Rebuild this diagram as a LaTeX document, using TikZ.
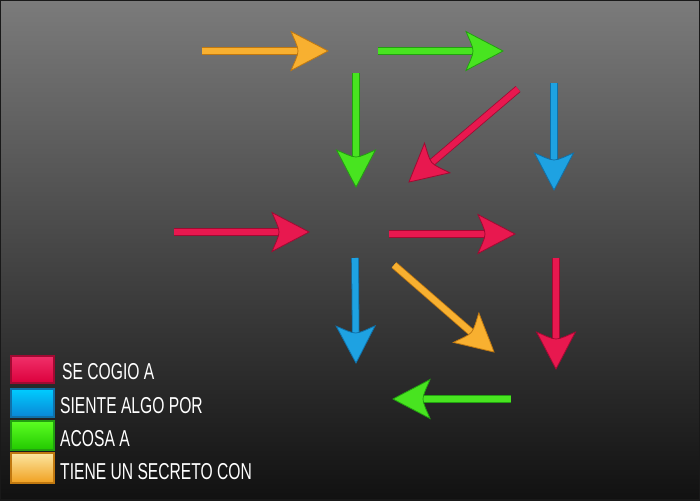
\documentclass[tikz,border=0pt]{standalone}
\usepackage{fontspec}
\newfontfamily\legendfont[FakeStretch=0.68]{Liberation Sans}
\usetikzlibrary{arrows.meta}

\definecolor{bgtop}{HTML}{7B7B7B}
\definecolor{bgbot}{HTML}{111111}
\definecolor{redA}{HTML}{E8184F}
\definecolor{redB}{HTML}{A00A32}
\definecolor{redC}{HTML}{F0306A}
\definecolor{redD}{HTML}{DC003C}
\definecolor{blueA}{HTML}{1EA2E2}
\definecolor{blueB}{HTML}{1070A8}
\definecolor{blueC}{HTML}{00CCFF}
\definecolor{blueD}{HTML}{0A86D6}
\definecolor{greenA}{HTML}{48E420}
\definecolor{greenB}{HTML}{22A010}
\definecolor{greenC}{HTML}{5CFF22}
\definecolor{greenD}{HTML}{22C800}
\definecolor{orangeA}{HTML}{F8B030}
\definecolor{orangeB}{HTML}{C07810}
\definecolor{orangeC}{HTML}{FCE6A0}
\definecolor{orangeD}{HTML}{F0A020}

% curved barbed head
\pgfdeclarearrow{
  name=Fang,
  setup code={
    \pgfarrowssettipend{0pt}
    \pgfarrowssetlineend{-26pt}
    \pgfarrowssetbackend{-38pt}
  },
  drawing code={
    \pgfsetlinewidth{0.8pt}
    \pgfpathmoveto{\pgfpoint{0pt}{0pt}}
    \pgfpathcurveto{\pgfpoint{-12pt}{6.5pt}}{\pgfpoint{-25pt}{13pt}}{\pgfpoint{-37pt}{19.5pt}}
    \pgfpathcurveto{\pgfpoint{-34pt}{12pt}}{\pgfpoint{-30pt}{5pt}}{\pgfpoint{-30pt}{0pt}}
    \pgfpathcurveto{\pgfpoint{-30pt}{-5pt}}{\pgfpoint{-34pt}{-12pt}}{\pgfpoint{-37pt}{-19.5pt}}
    \pgfpathcurveto{\pgfpoint{-25pt}{-13pt}}{\pgfpoint{-12pt}{-6.5pt}}{\pgfpoint{0pt}{0pt}}
    \pgfpathclose
    \pgfusepathqfillstroke
  },
}

\tikzset{
  rel/.style={draw=#1A, line width=6pt,
    -{Fang[color=#1B,fill=#1A]},
    preaction={draw=#1B, line width=7.6pt, arrows=-, shorten >=24pt}},
  keybox/.style={draw=#1B, line width=1.2pt, top color=#1C, bottom color=#1D},
  keytext/.style={anchor=base west, text=white, inner sep=0pt,
    font=\legendfont\fontsize{23}{25}\selectfont},
}

\begin{document}
\begin{tikzpicture}[x=1pt,y=-1pt]
  \useasboundingbox (0,0) rectangle (700,500);
  \fill[top color=bgtop, bottom color=bgbot] (0,0) rectangle (700,500);
  \draw[black!90, line width=2pt] (0,0) rectangle (700,500);

  % ends of the relations
  \foreach \n/\x/\y in {s1/202/51, e1/328/51, s2/378/51, e2/503/51,
      s3/356/73, e3/356/187, s4/518/89, e4/409/182, s5/554/83, e5/554/190,
      s6/174/232, e6/309/232, s7/389/234, e7/515/234, s8/355/258, e8/356/363,
      s9/394/265, e9/494/352, s10/556/258, e10/556/369, s11/511/399, e11/393/399}
    \coordinate (\n) at (\x,\y);

  \foreach \i/\c in {1/orange,2/green,3/green,4/red,5/blue,6/red,
      7/red,8/blue,9/orange,10/red,11/green}
    \draw[rel=\c] (s\i) -- (e\i);

  % legend
  \foreach \c/\t/\b/\tx/\label in {red/356/383/62/SE COGIO A,
      blue/389/417/60/SIENTE ALGO POR, green/421/450/60/ACOSA A,
      orange/453/483/60/TIENE UN SECRETO CON} {
    \draw[keybox=\c] (11,\t) rectangle (54,\b);
    \node[keytext] (key\c) at (\tx,\b-4) {\label};
  }
\end{tikzpicture}
\end{document}
